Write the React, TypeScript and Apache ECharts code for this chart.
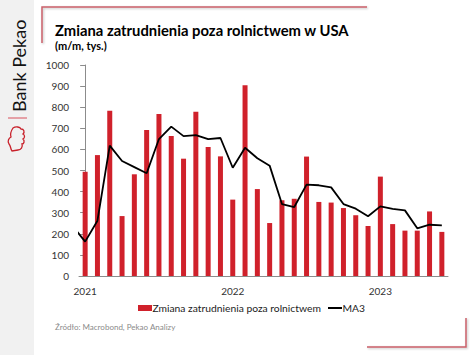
import React, { useEffect, useRef } from "react";
import * as echarts from "echarts";

const months = [
  "2021-01","2021-02","2021-03","2021-04","2021-05","2021-06","2021-07","2021-08","2021-09","2021-10","2021-11","2021-12",
  "2022-01","2022-02","2022-03","2022-04","2022-05","2022-06","2022-07","2022-08","2022-09","2022-10","2022-11","2022-12",
  "2023-01","2023-02","2023-03","2023-04","2023-05","2023-06",
];
const payrolls = [494,573,783,284,482,692,768,663,556,779,611,567,362,904,412,251,359,366,566,351,348,322,288,237,471,246,215,215,306,209];
// MA3 starts one month earlier (Dec 2020), drawn clipped at the axis
const ma3Months = ["2020-12", ...months];
const ma3 = [235,163,262,618,545,516,487,649,708,663,668,649,654,513,608,558,523,341,327,433,430,420,341,319,283,330,318,311,226,243,240];

const TITLE = "Zmiana zatrudnienia poza rolnictwem w USA";
const SUBTITLE = "(m/m, tys.)";
const SOURCE = "Źródło: Macrobond, Pekao Analizy";
const BAR_NAME = "Zmiana zatrudnienia poza rolnictwem";
const LINE_NAME = "MA3";

const LOGO_D =
  "M6,2 C9,0 13,1 14,3 C17,3 18,6 16,8 C18,9 18,12 16,13 C18,15 17,18 15,18 C16,21 14,24 11,24 L5,25 C3,22 4,20 2,18 C0,15 2,12 4,11 C3,8 4,5 6,2 Z";
let logoRegistered = false;
function ensureLogo() {
  if (logoRegistered) return;
  echarts.graphic.registerShape("pekaoLogo", echarts.graphic.extendPath(LOGO_D, {}) as any);
  logoRegistered = true;
}

export default function App() {
  const ref = useRef<HTMLDivElement>(null);
  useEffect(() => {
    ensureLogo();
    const chart = echarts.init(ref.current!, null, { renderer: "svg" });
    const font = "Lato, 'Noto Sans', sans-serif";
    const frameColor = "#c9606a";
    const barColor = "#d0212b";
    const lineData = ma3Months.map((m, k) => [k - 1, ma3[k]]);
    chart.setOption({
      animation: false,
      backgroundColor: "#ffffff",
      textStyle: { fontFamily: font },
      graphic: [
        { type: "rect", shape: { x: 0, y: 0, width: 34, height: 355 }, style: { fill: "#f1f1f1" }, silent: true },
        {
          type: "text", x: 28, y: 112, rotation: Math.PI / 2,
          style: { text: "Bank Pekao", fontSize: 18, fontFamily: font, fill: "#111", textAlign: "left", textVerticalAlign: "bottom" },
        },
        { type: "line", shape: { x1: 8, y1: 118, x2: 27, y2: 118 }, style: { stroke: "#d9505c", lineWidth: 1 } },
        { type: "pekaoLogo", x: 7, y: 126, style: { fill: "none", stroke: "#c8202a", lineWidth: 1.3 } },
        {
          type: "polyline", shape: { points: [[42, 43], [42, 7], [367, 7]] },
          style: { stroke: frameColor, lineWidth: 1.5, fill: "none", shadowBlur: 2, shadowColor: "rgba(0,0,0,0.25)", shadowOffsetX: 1, shadowOffsetY: 1 },
        },
        {
          type: "polyline", shape: { points: [[367, 347], [466, 347], [466, 318]] },
          style: { stroke: frameColor, lineWidth: 1.5, fill: "none", shadowBlur: 2, shadowColor: "rgba(0,0,0,0.25)", shadowOffsetX: 1, shadowOffsetY: 1 },
        },
        { type: "text", x: 55, y: 22, style: { text: TITLE, fontSize: 14.8, fontWeight: "bold", fontFamily: font, fill: "#000" } },
        { type: "text", x: 55, y: 40, style: { text: SUBTITLE, fontSize: 11, fontWeight: "bold", fontFamily: font, fill: "#000" } },
        { type: "text", x: 55, y: 323, style: { text: SOURCE, fontSize: 8, fontFamily: font, fill: "#8a8a8a" } },
        // legend
        { type: "rect", shape: { x: 138, y: 305, width: 14, height: 6 }, style: { fill: barColor } },
        { type: "text", x: 152.5, y: 308, style: { text: BAR_NAME, fontSize: 10.3, fontFamily: font, fill: "#222", textVerticalAlign: "middle" } },
        { type: "line", shape: { x1: 328, y1: 308, x2: 342, y2: 308 }, style: { stroke: "#000", lineWidth: 2 } },
        { type: "text", x: 342.5, y: 308, style: { text: LINE_NAME, fontSize: 10.3, fontFamily: font, fill: "#222", textVerticalAlign: "middle" } },
      ],
      grid: { left: 79, right: 26, top: 65, bottom: 79 },
      xAxis: [
        {
          type: "category", data: months, boundaryGap: true,
          axisLine: { lineStyle: { color: "#8c8c8c", width: 1 } },
          axisTick: { show: false },
          axisLabel: {
            interval: 0, margin: 10, fontSize: 10, color: "#333", fontFamily: font,
            formatter: (v: string) => (v.endsWith("-01") ? v.slice(0, 4) : ""),
          },
        },
        { type: "value", min: -0.5, max: months.length - 0.5, show: false },
      ],
      yAxis: {
        type: "value", min: 0, max: 1000, interval: 100,
        axisLine: { show: true, lineStyle: { color: "#8c8c8c", width: 1 } },
        axisTick: { show: true, length: 5, lineStyle: { color: "#8c8c8c" } },
        axisLabel: { fontSize: 10, color: "#333", margin: 10, fontFamily: font, formatter: (v: number) => String(v) },
        splitLine: { show: false },
      },
      series: [
        {
          name: BAR_NAME, type: "bar", data: payrolls, barWidth: 5,
          itemStyle: { color: barColor },
        },
        {
          name: LINE_NAME, type: "line", xAxisIndex: 1, data: lineData,
          symbol: "none", clip: true,
          lineStyle: { color: "#000", width: 1.8 },
          itemStyle: { color: "#000" },
        },
      ],
    });
    return () => chart.dispose();
  }, []);
  return <div ref={ref} style={{ position: "fixed", left: 0, top: 0, width: 474, height: 355 }} />;
}
